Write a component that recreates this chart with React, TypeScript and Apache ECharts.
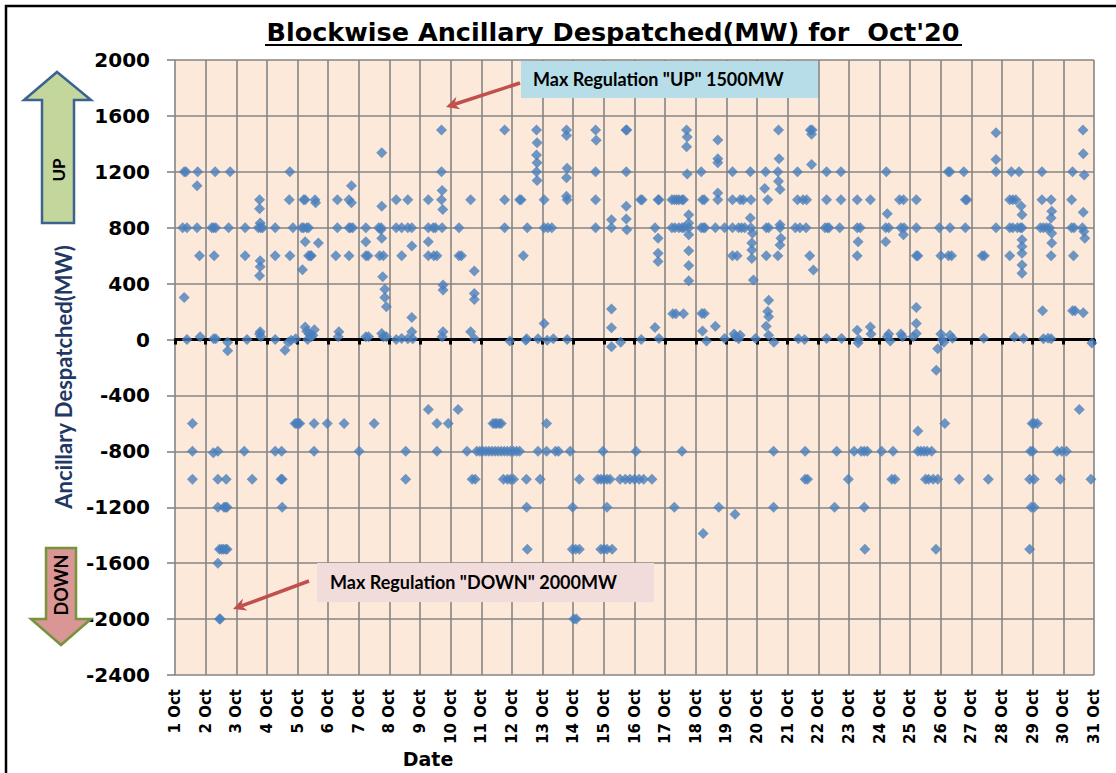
import React, { useEffect, useRef } from "react";
import * as echarts from "echarts";

const MONTH = "Oct";
const TITLE = "Blockwise Ancillary Despatched(MW) for  Oct'20";
const Y_NAME = "Ancillary Despatched(MW)";
const X_NAME = "Date";
const UP_NOTE = 'Max Regulation "UP" 1500MW';
const DOWN_NOTE = 'Max Regulation "DOWN" 2000MW';

// [day (fractional, by block), MW]
const week1: [number, number][] = [
  [1.3, 300], [1.3, 1200], [1.36, 1200], [1.25, 800], [1.39, 800], [1.39, 0],
  [1.74, 1200], [1.72, 1100], [1.72, 800], [1.8, 600], [1.82, 20],
  [1.57, -600], [1.57, -800], [1.57, -1000],
  [2.2, 800], [2.26, 800], [2.33, 800], [2.31, 1200], [2.28, 600], [2.26, 5], [2.33, 5],
  [2.8, 1200], [2.75, 800], [2.72, -20], [2.72, -80],
  [2.25, -810], [2.4, -800], [2.4, -1000], [2.4, -1200], [2.4, -1600], [2.45, -2000], [2.48, -2000],
  [2.67, -1000], [2.6, -1200], [2.65, -1200], [2.7, -1200], [2.45, -1500], [2.52, -1500], [2.58, -1500], [2.65, -1500], [2.7, -1500],
  [3.29, 800], [3.29, 600], [3.35, 0], [3.26, -800], [3.52, -1000],
  [3.76, 1000], [3.76, 935], [3.78, 833], [3.72, 800], [3.8, 800], [3.86, 800], [3.78, 563], [3.78, 520], [3.76, 457],
  [3.78, 55], [3.8, 20], [3.76, 40],
  [4.27, 800], [4.27, 600], [4.27, 0], [4.27, -800], [4.48, -800], [4.46, -1000], [4.5, -1000], [4.5, -1200], [4.59, -77], [4.7, -20],
  [4.75, 1200], [4.73, 1000], [4.75, 600], [4.85, 800], [4.79, -5], [4.94, 5],
  [4.92, -600], [4.97, -600], [5.02, -600], [5.07, -600], [5.54, -600], [5.54, -800],
  [5.2, 1000], [5.25, 1000], [5.57, 1000], [5.59, 978], [5.14, 800], [5.2, 800], [5.3, 800], [5.36, 800], [5.25, 700], [5.68, 690],
  [5.36, 600], [5.42, 600], [5.45, 600], [5.16, 500], [5.25, 90], [5.3, 60], [5.38, 40], [5.45, 20], [5.33, 0], [5.55, 70], [5.5, 30],
  [5.97, -600], [6.52, -600], [6.3, 1000], [6.3, 800], [6.25, 600], [6.35, 55], [6.33, 20],
  [6.68, 1000], [6.76, 1100], [6.76, 978], [6.68, 800], [6.8, 800], [6.73, 800], [6.68, 600],
  [7.01, -800], [7.5, -600], [7.23, 800], [7.23, 700], [7.23, 600], [7.3, 600], [7.23, 20], [7.32, 20],
  [7.65, 800], [7.73, 800], [7.75, 1336], [7.75, 953], [7.72, 785], [7.75, 725], [7.68, 600], [7.8, 600],
  [7.78, 450], [7.85, 360], [7.85, 300], [7.9, 235], [7.8, 20], [7.9, 20], [7.75, 43],
];

const week2: [number, number][] = [
  [8.22, 1000], [8.22, 800], [8.22, 0], [8.4, 600], [8.4, 800], [8.4, 7], [8.6, 1000], [8.6, 800], [8.6, 5],
  [8.73, 800], [8.73, 670], [8.73, 158], [8.73, 55], [8.76, 5], [8.53, -800], [8.53, -1000],
  [9.27, -500], [9.55, -600], [9.55, -800], [9.92, -600],
  [9.27, 1000], [9.27, 800], [9.27, 700], [9.27, 600], [9.43, 800], [9.5, 800], [9.45, 600], [9.55, 600],
  [9.7, 1500], [9.7, 1200], [9.72, 1066], [9.7, 1000], [9.74, 930], [9.72, 800], [9.75, 390], [9.75, 355], [9.75, 55], [9.72, 20],
  [10.24, -500], [10.53, -800], [10.7, -1000], [10.27, 800], [10.27, 600], [10.35, 600], [10.65, 1000], [10.65, 55],
  [10.77, 490], [10.77, 330], [10.77, 287], [10.77, 7],
  [11.76, 1500], [11.76, 1000], [11.76, 800], [11.93, -10],
  [10.85, -800], [10.95, -800], [11.05, -800], [11.15, -800], [11.25, -800], [11.35, -800], [11.45, -800], [11.55, -800],
  [11.65, -800], [11.75, -800], [11.85, -800], [11.95, -800], [12.05, -800], [12.15, -800], [12.25, -800],
  [11.38, -600], [11.45, -600], [11.5, -600], [11.58, -600], [11.65, -600],
  [10.8, -1000], [11.72, -1000], [11.85, -1000], [11.95, -1000], [12.05, -1000], [12.47, -1000], [12.92, -1000],
  [12.25, 1000], [12.3, 1000], [12.37, 600], [12.5, 800], [12.48, 5], [12.45, -5],
  [12.8, 1500], [12.82, 1408], [12.8, 1320], [12.82, 1265], [12.8, 1200], [12.82, 1137], [12.85, 5],
  [12.48, -1200], [12.5, -1500], [12.85, -800],
  [13.05, 1000], [13.05, 800], [13.17, 800], [13.05, 115], [13.15, -5], [13.3, 800], [13.35, 5],
  [13.13, -600], [13.13, -800], [13.42, -800], [13.52, -800], [13.9, -800],
  [13.78, 1500], [13.78, 1460], [13.8, 1226], [13.78, 1157], [13.78, 1025], [13.8, 1000], [13.8, 0],
  [13.98, -1200], [13.97, -1500], [14.08, -1500], [14.2, -1500], [14.02, -2000], [14.1, -2000], [14.2, -1000],
  [14.73, 1500], [14.75, 1425], [14.73, 1200], [14.73, 1000], [14.73, 800], [14.97, -800],
];

const week3: [number, number][] = [
  [14.8, -1000], [14.9, -1000], [15.0, -1000], [15.1, -1000], [15.2, -1000], [15.1, -1200],
  [14.9, -1500], [15.0, -1500], [15.1, -1500], [15.27, -1500],
  [15.25, 857], [15.25, 800], [15.25, 218], [15.25, 84], [15.25, -52], [15.55, -20],
  [15.72, 1500], [15.75, 1500], [15.73, 1200], [15.73, 953], [15.73, 862], [15.75, 785],
  [15.53, -1000], [15.7, -1000], [15.85, -1000],
  [16.0, -1000], [16.15, -1000], [16.3, -1000], [16.57, -1000], [16.05, -800],
  [16.2, 1000], [16.25, 1000], [16.22, 0], [16.67, 800], [16.67, 86], [16.77, 1000], [16.8, 1000],
  [16.77, 725], [16.77, 617], [16.77, 558], [16.8, 7],
  [17.22, 1000], [17.3, 1000], [17.38, 1000], [17.45, 1000], [17.55, 1000], [17.6, 1000],
  [17.22, 800], [17.32, 800], [17.45, 800], [17.55, 800], [17.62, 800],
  [17.25, 184], [17.35, 184], [17.6, 184],
  [17.7, 1500], [17.72, 1450], [17.7, 1380], [17.72, 1185], [17.77, 893], [17.77, 833], [17.77, 800],
  [17.77, 750], [17.77, 635], [17.77, 530], [17.77, 420],
  [17.55, -800], [17.3, -1200],
  [18.18, 1200], [18.22, 1000], [18.28, 1000], [18.18, 800], [18.25, 800], [18.3, 800], [18.2, 187], [18.28, 187],
  [18.22, 62], [18.35, -10],
  [18.64, 96], [18.64, 800], [18.72, 1427], [18.72, 1293], [18.72, 1265], [18.72, 1049], [18.72, 1000], [18.94, 800], [18.94, 7],
  [18.24, -1387], [18.75, -1200],
  [19.2, 1200], [19.2, 1000], [19.2, 800], [19.2, 600], [19.28, -1250], [19.25, 40], [19.3, 20],
  [19.45, 1000], [19.55, 1000], [19.4, 800], [19.5, 800], [19.6, 800], [19.35, 600],
  [19.78, 1200], [19.8, 1000], [19.78, 870], [19.8, 800], [19.85, 760], [19.83, 690], [19.83, 640], [19.83, 580],
  [19.88, 426], [19.4, 5], [19.45, 30], [19.95, 7],
  [20.28, 1200], [20.25, 1080], [20.35, 1000], [20.3, 800], [20.38, 800], [20.3, 600], [20.38, 282], [20.35, 200],
  [20.38, 163], [20.3, 96], [20.38, 30], [20.55, -20],
  [20.7, 1500], [20.72, 1293], [20.68, 1200], [20.7, 1133], [20.75, 1073], [20.75, 822], [20.75, 800], [20.78, 725],
  [20.75, 677], [20.68, 600],
  [20.54, -800], [20.54, -1200],
  [21.32, 1200], [21.32, 1000], [21.5, 1000], [21.62, 1000], [21.25, 800], [21.4, 800], [21.6, 800], [21.35, 5], [21.55, 0],
  [21.74, 1500], [21.8, 1500], [21.78, 1468], [21.78, 1253], [21.72, 600], [21.84, 498],
  [21.57, -800], [21.57, -1000], [21.65, -1000],
];

const week4: [number, number][] = [
  [22.27, 1200], [22.27, 1000], [22.22, 800], [22.3, 800], [22.35, 800], [22.27, 7], [22.53, -1200], [22.6, -800], [22.98, -1000],
  [22.74, 1200], [22.74, 1000], [22.7, 800], [22.76, 7],
  [23.27, 1000], [23.27, 800], [23.37, 800], [23.3, 700], [23.27, 600], [23.27, 67], [23.32, 0], [23.3, -25],
  [23.17, -800], [23.4, -800], [23.5, -800], [23.6, -800], [23.5, -1200], [23.52, -1500],
  [23.7, 1000], [23.7, 90], [23.72, 40],
  [24.07, -800], [24.44, -800], [24.4, -1000], [24.5, -1000],
  [24.22, 1200], [24.25, 900], [24.2, 800], [24.3, 800], [24.2, 700], [24.25, 20], [24.35, -10], [24.3, 40],
  [24.65, 1000], [24.78, 1000], [24.7, 800], [24.8, 800], [24.78, 750], [24.75, 20], [24.7, 40],
  [25.2, 1000], [25.2, 800], [25.2, 600], [25.25, 600], [25.2, 230], [25.2, 115], [25.2, 43], [25.1, 20],
  [25.25, -655], [25.25, -800], [25.35, -800], [25.45, -800], [25.55, -800], [25.7, -800],
  [25.5, -1000], [25.6, -1000], [25.75, -1000], [25.9, -1000], [25.84, -1500],
  [25.95, 800], [26.0, 600], [25.9, -65], [25.85, -220],
  [26.13, -600], [26.6, -1000], [26.24, 1200], [26.3, 1200], [26.3, 800], [26.25, 600], [26.35, 600],
  [26.3, 30], [26.38, 10], [26.0, 40], [26.05, 0], [26.1, -20],
  [26.75, 1200], [26.8, 1000], [26.85, 1000], [26.8, 800],
  [27.35, 600], [27.42, 600], [27.4, 10], [27.55, -1000],
  [27.8, 1480], [27.8, 1288], [27.8, 1200], [27.8, 800],
  [28.3, 1200], [28.25, 1000], [28.35, 1000], [28.45, 1000], [28.55, 1200], [28.25, 800], [28.35, 800], [28.5, 800],
  [28.6, 800], [28.65, 800],
  [28.62, 955], [28.65, 893], [28.65, 714], [28.65, 665], [28.65, 617], [28.65, 534], [28.65, 474], [28.25, 600],
  [28.4, 19], [28.7, 7],
  [28.93, -800], [28.98, -600], [29.05, -600], [29.15, -600], [28.9, -1000], [29.05, -1000], [28.95, -1200],
  [29.05, -1200], [28.9, -1500], [29.0, -800],
  [29.3, 1200], [29.3, 1000], [29.6, 1000], [29.62, 917], [29.6, 869], [29.25, 800], [29.35, 800], [29.45, 800],
  [29.55, 800], [29.62, 760], [29.62, 690], [29.6, 600], [29.32, 206], [29.35, 5], [29.5, 10], [29.6, 5],
  [29.8, -800], [29.95, -800], [30.1, -800], [29.9, -1000],
  [30.3, 1200], [30.27, 1000], [30.27, 800], [30.35, 800], [30.33, 600], [30.3, 206], [30.38, 206], [30.52, -500],
  [30.64, 1500], [30.65, 1330], [30.68, 1178], [30.65, 910], [30.62, 800], [30.67, 773], [30.7, 725], [30.65, 192],
  [30.93, -24], [30.9, -1000],
];

function arrow(x1: number, y1: number, x2: number, y2: number, color: string) {
  const dx = x2 - x1;
  const dy = y2 - y1;
  const len = Math.sqrt(dx * dx + dy * dy);
  const ux = dx / len;
  const uy = dy / len;
  const hl = 13;
  const hw = 6.5;
  const bx = x2 - ux * hl;
  const by = y2 - uy * hl;
  const px = -uy;
  const py = ux;
  return [
    {
      type: "line",
      z: 120,
      shape: { x1, y1, x2: bx + ux * 4, y2: by + uy * 4 },
      style: { stroke: color, lineWidth: 3.5 },
    },
    {
      type: "polygon",
      z: 121,
      shape: {
        points: [
          [x2, y2],
          [bx + px * hw, by + py * hw],
          [bx + ux * 4, by + uy * 4],
          [bx - px * hw, by - py * hw],
        ],
      },
      style: { fill: color },
    },
  ];
}

export default function App() {
  const ref = useRef<HTMLDivElement>(null);
  useEffect(() => {
    if (!ref.current) return;
    const chart = echarts.init(ref.current, undefined, { renderer: "svg" });
    const data = [...week1, ...week2, ...week3, ...week4];
    const grid = "#858585";
    chart.setOption({
      animation: false,
      backgroundColor: "#ffffff",
      grid: {
        left: 175,
        right: 22,
        top: 60,
        bottom: 98,
        show: true,
        backgroundColor: "#fde9d9",
        borderWidth: 0,
        containLabel: false,
        outerBoundsMode: "none",
      },
      xAxis: {
        type: "value",
        min: 1,
        max: 31,
        interval: 1,
        axisLine: { onZero: true, lineStyle: { color: "#000", width: 3 } },
        axisTick: { show: true, length: 5, lineStyle: { color: "#000", width: 3 } },
        axisLabel: {
          rotate: 90,
          margin: 14,
          formatter: (v: number) => `${v} ${MONTH}`,
          fontFamily: "DejaVu Sans",
          fontWeight: "bold",
          fontSize: 15,
          color: "#000",
        },
        splitLine: { show: true, lineStyle: { color: grid, width: 1.6 } },
      },
      yAxis: {
        type: "value",
        min: -2400,
        max: 2000,
        interval: 400,
        axisLine: { show: false },
        axisTick: { show: true, length: 8, lineStyle: { color: grid, width: 1.6 } },
        axisLabel: {
          margin: 25,
          formatter: (v: number) => String(v),
          fontFamily: "DejaVu Sans",
          fontWeight: "bold",
          fontSize: 20,
          color: "#000",
        },
        splitLine: { show: true, lineStyle: { color: grid, width: 1.6 } },
      },
      series: [
        {
          type: "scatter",
          symbol: "diamond",
          symbolSize: 11,
          data,
          itemStyle: { color: "#4a7ebb" },
          z: 3,
        },
      ],
      graphic: [
        {
          type: "rect",
          z: 200,
          shape: { x: 6, y: 6, width: 1140, height: 800 },
          style: { fill: "none", stroke: "#000", lineWidth: 2.5 },
        },
        {
          type: "text",
          z: 110,
          x: 613,
          y: 32,
          style: {
            text: TITLE,
            font: "bold 25.5px 'DejaVu Sans'",
            fill: "#000",
            align: "center",
            verticalAlign: "middle",
          },
        },
        {
          type: "line",
          z: 110,
          shape: { x1: 265, y1: 45, x2: 962, y2: 45 },
          style: { stroke: "#000", lineWidth: 2 },
        },
        {
          type: "text",
          z: 110,
          x: 63,
          y: 377,
          rotation: Math.PI / 2,
          style: {
            text: Y_NAME,
            font: "bold 22px Lato",
            fill: "#1f3864",
            align: "center",
            verticalAlign: "middle",
          },
        },
        {
          type: "text",
          z: 110,
          x: 428,
          y: 759,
          style: {
            text: X_NAME,
            font: "bold 19px 'DejaVu Sans'",
            fill: "#000",
            align: "center",
            verticalAlign: "middle",
          },
        },
        // UP arrow
        {
          type: "polygon",
          z: 110,
          shape: {
            points: [
              [57, 72], [91, 100], [74, 100], [74, 223], [42, 223], [42, 100], [24, 100],
            ],
          },
          style: { fill: "#c3d69b", stroke: "#3c6390", lineWidth: 2.5 },
        },
        {
          type: "text",
          z: 111,
          x: 58,
          y: 170,
          rotation: Math.PI / 2,
          style: {
            text: "UP",
            font: "bold 17px Lato",
            fill: "#000",
            align: "center",
            verticalAlign: "middle",
          },
        },
        // DOWN arrow
        {
          type: "polygon",
          z: 110,
          shape: {
            points: [
              [46, 548], [76, 548], [76, 619], [91, 619], [61, 645], [31, 619], [46, 619],
            ],
          },
          style: { fill: "#d99694", stroke: "#77933c", lineWidth: 2.5 },
        },
        {
          type: "text",
          z: 111,
          x: 61,
          y: 585,
          rotation: Math.PI / 2,
          style: {
            text: "DOWN",
            font: "bold 18px Lato",
            fill: "#000",
            align: "center",
            verticalAlign: "middle",
          },
        },
        // UP note
        {
          type: "rect",
          z: 115,
          shape: { x: 521, y: 61, width: 297, height: 37 },
          style: { fill: "#b7dee8" },
        },
        {
          type: "text",
          z: 116,
          x: 533,
          y: 79,
          style: {
            text: UP_NOTE,
            font: "bold 18px Lato",
            fill: "#000",
            align: "left",
            verticalAlign: "middle",
          },
        },
        ...arrow(520, 83, 446, 107, "#c0504d"),
        // DOWN note
        {
          type: "rect",
          z: 115,
          shape: { x: 317, y: 563, width: 337, height: 39 },
          style: { fill: "#f2dcdb" },
        },
        {
          type: "text",
          z: 116,
          x: 330,
          y: 582,
          style: {
            text: DOWN_NOTE,
            font: "bold 18px Lato",
            fill: "#000",
            align: "left",
            verticalAlign: "middle",
          },
        },
        ...arrow(309, 581, 233, 609, "#c0504d"),
      ],
    });
    return () => chart.dispose();
  }, []);
  return (
    <div
      ref={ref}
      style={{ position: "absolute", left: 0, top: 0, width: 1116, height: 773 }}
    />
  );
}
